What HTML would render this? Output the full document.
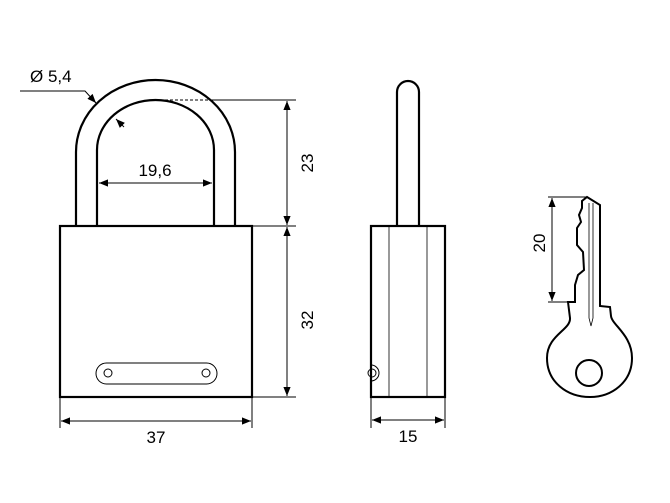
<!DOCTYPE html>
<html><head><style>
html,body{margin:0;padding:0;background:#fff;}
svg{display:block;}
text{font-family:"Liberation Sans",sans-serif;font-size:17px;fill:#000;}
</style></head><body>
<svg width="670" height="503" viewBox="0 0 670 503" xmlns="http://www.w3.org/2000/svg">
<defs>
<marker id="a" viewBox="0 0 10 10" refX="10" refY="5" markerWidth="9" markerHeight="9" orient="auto-start-reverse" markerUnits="userSpaceOnUse"><path d="M0,1 L10,5 L0,9 z" fill="#000"/></marker>
</defs>
<g fill="none" stroke="#000">
<!-- shackle -->
<path d="M76,226 L76,152 A79.5,72 0 0 1 235,152 L235,226" stroke-width="2.2"/>
<path d="M97,226 L97,150 A58.5,50 0 0 1 214,150 L214,226" stroke-width="2.2"/>
<!-- body -->
<rect x="60" y="226" width="192" height="171" stroke-width="2.2"/>
<rect x="96" y="363" width="121" height="21" rx="10.5" stroke-width="1"/>
<circle cx="108" cy="373" r="4" stroke-width="1"/>
<circle cx="206" cy="373" r="4" stroke-width="1"/>
<!-- dims -->
<line x1="165" y1="100" x2="212" y2="100" stroke-width="1" stroke-dasharray="3,2"/>
<line x1="212" y1="100" x2="296" y2="100" stroke-width="1"/>
<line x1="252" y1="226" x2="296" y2="226" stroke-width="1"/>
<line x1="252" y1="397" x2="296" y2="397" stroke-width="1"/>
<line x1="287" y1="101" x2="287" y2="225" stroke-width="1" marker-start="url(#a)" marker-end="url(#a)"/>
<line x1="287" y1="227" x2="287" y2="396" stroke-width="1" marker-start="url(#a)" marker-end="url(#a)"/>
<line x1="99" y1="183" x2="212" y2="183" stroke-width="1" marker-start="url(#a)" marker-end="url(#a)"/>
<line x1="60" y1="397" x2="60" y2="428" stroke-width="1"/>
<line x1="252" y1="397" x2="252" y2="428" stroke-width="1"/>
<line x1="61" y1="421" x2="251" y2="421" stroke-width="1" marker-start="url(#a)" marker-end="url(#a)"/>
<polyline points="20,91 85,91 96,103" stroke-width="1" marker-end="url(#a)"/>
<line x1="124" y1="127" x2="116" y2="119" stroke-width="1" marker-end="url(#a)"/>
<!-- side view -->
<path d="M397,226 L397,92 A11,11 0 0 1 419,92 L419,226" stroke-width="2.2"/>
<rect x="371" y="226" width="74" height="171" stroke-width="2.2"/>
<line x1="389" y1="226" x2="389" y2="397" stroke-width="0.8"/>
<line x1="427" y1="226" x2="427" y2="397" stroke-width="0.8"/>
<path d="M371,365 A8,8 0 0 1 371,381" stroke-width="1"/>
<circle cx="372" cy="373" r="4" stroke-width="1"/>
<line x1="371" y1="397" x2="371" y2="428" stroke-width="1"/>
<line x1="445" y1="397" x2="445" y2="428" stroke-width="1"/>
<line x1="372" y1="420" x2="444" y2="420" stroke-width="1" marker-start="url(#a)" marker-end="url(#a)"/>
<!-- key -->
<path d="M587,197 L600,205 L600,306 L610,307 L611,316 C612,325 632,335 632,358 C632,382 612,397 590,397 C567,397 547,382 547,358 C547,335 571,330 570,318 L568,302 L575,302 L575,285 L578,275 L584,270 L583,252 L577,245 L577,228 L581,222 L579,215 L582,208 L582,201 Z" stroke-width="2"/>
<polyline points="589,203 589,318 591,326 593,318 593,203" stroke-width="0.8"/>
<circle cx="589" cy="373" r="13" stroke-width="2"/>
<line x1="548" y1="197" x2="587" y2="197" stroke-width="1"/>
<line x1="548" y1="302" x2="575" y2="302" stroke-width="1"/>
<line x1="552" y1="198" x2="552" y2="301" stroke-width="1" marker-start="url(#a)" marker-end="url(#a)"/>
</g>
<text x="30" y="82">Ø 5,4</text>
<text x="155" y="176" text-anchor="middle">19,6</text>
<text x="156" y="443" text-anchor="middle">37</text>
<text x="408" y="442" text-anchor="middle">15</text>
<text transform="translate(313,163) rotate(-90)" text-anchor="middle">23</text>
<text transform="translate(313,320) rotate(-90)" text-anchor="middle">32</text>
<text transform="translate(545,243) rotate(-90)" text-anchor="middle">20</text>
</svg>
</body></html>
